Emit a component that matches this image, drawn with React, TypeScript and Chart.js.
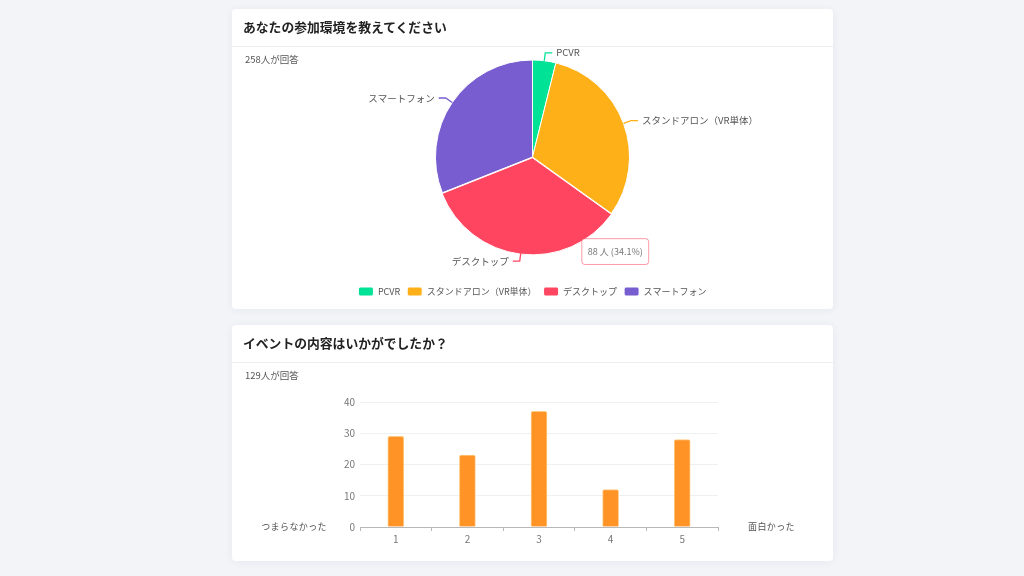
import { useEffect, useRef } from "react"
import { Chart, registerables, Tooltip, ArcElement } from "chart.js"

Chart.register(...registerables)

const FONT = "'Noto Sans CJK JP', 'Noto Sans', sans-serif"
Chart.defaults.font.family = FONT

// Q1: participation environment
const envLabels = ["PCVR", "スタンドアロン（VR単体）", "デスクトップ", "スマートフォン"]
const envCounts = [10, 80, 88, 80]
const envColors = ["#00E396", "#FEB019", "#FF4560", "#775DD0"]

// Q2: event rating
const ratingLabels = ["1", "2", "3", "4", "5"]
const ratingCounts = [29, 23, 37, 12, 28]
const ratingTicks = [0, 10, 20, 30, 40]

const total = (arr: number[]) => arr.reduce((a, b) => a + b, 0)

// tooltip sits where the "mouse" is
;(Tooltip.positioners as any).pointer = function (_els: any, pos: any) {
  return pos
}

// outside labels with leader lines
const leaderLabels = {
  id: "leaderLabels",
  afterDatasetsDraw(chart: Chart) {
    const { ctx } = chart
    const meta = chart.getDatasetMeta(0)
    ctx.save()
    ctx.font = `9.5px ${FONT}`
    ctx.textBaseline = "middle"
    meta.data.forEach((el, i) => {
      const arc = el as ArcElement
      const { x, y, startAngle, endAngle, outerRadius } = arc.getProps(
        ["x", "y", "startAngle", "endAngle", "outerRadius"],
        true
      ) as any
      const mid = (startAngle + endAngle) / 2
      const cos = Math.cos(mid)
      const sin = Math.sin(mid)
      const sx = x + cos * outerRadius
      const sy = y + sin * outerRadius
      const ex = x + cos * (outerRadius + 8)
      const ey = y + sin * (outerRadius + 8)
      const dir = cos >= 0 ? 1 : -1
      const hx = ex + dir * 7
      ctx.strokeStyle = envColors[i]
      ctx.lineWidth = 1.3
      ctx.beginPath()
      ctx.moveTo(sx, sy)
      ctx.lineTo(ex, ey)
      ctx.lineTo(hx, ey)
      ctx.stroke()
      ctx.fillStyle = "#555"
      ctx.textAlign = dir > 0 ? "left" : "right"
      ctx.fillText(envLabels[i], hx + dir * 4, ey)
    })
    ctx.restore()
  },
}

function EnvPie() {
  const ref = useRef<HTMLCanvasElement>(null)
  useEffect(() => {
    if (!ref.current) return
    const sum = total(envCounts)
    const chart = new Chart(ref.current, {
      type: "pie",
      data: {
        labels: envLabels,
        datasets: [
          {
            data: envCounts,
            backgroundColor: envColors,
            hoverBackgroundColor: envColors,
            borderColor: "#fff",
            hoverBorderColor: "#fff",
            borderWidth: 1,
            hoverOffset: 3,
            radius: 97,
          } as any,
        ],
      },
      plugins: [leaderLabels],
      options: {
        animation: false,
        responsive: false,
        events: [],
        layout: { padding: 0 },
        plugins: {
          legend: {
            position: "bottom",
            labels: {
              color: "#555",
              font: { size: 9 },
              boxWidth: 15,
              boxHeight: 9,
              padding: 7,
              useBorderRadius: true,
              borderRadius: 2,
            } as any,
          },
          tooltip: {
            enabled: true,
            position: "pointer" as any,
            xAlign: "left",
            yAlign: "top",
            caretSize: 0,
            caretPadding: 0,
            backgroundColor: "#fff",
            borderColor: "rgba(255,69,96,0.55)",
            borderWidth: 1,
            cornerRadius: 3,
            bodyColor: "#777",
            bodyFont: { size: 9 },
            padding: { x: 6, y: 7.5 },
            displayColors: false,
            callbacks: {
              title: () => "",
              label: (c) => `${c.raw} 人 (${(((c.raw as number) / sum) * 100).toFixed(1)}%)`,
            },
          },
        },
      },
    })
    // show the hovered state for デスクトップ
    const arc = chart.getDatasetMeta(0).data[2] as any
    const p = arc.getProps(["x", "y", "startAngle", "outerRadius"], true)
    const a = p.startAngle + 0.38
    const pos = { x: p.x + Math.cos(a) * p.outerRadius, y: p.y + Math.sin(a) * p.outerRadius }
    chart.setActiveElements([{ datasetIndex: 0, index: 2 }])
    chart.tooltip?.setActiveElements([{ datasetIndex: 0, index: 2 }], pos)
    chart.update()
    return () => chart.destroy()
  }, [])
  return <canvas ref={ref} width={601} height={272} style={{ position: "absolute", left: 0, top: 25 }} />
}

function RatingBar() {
  const ref = useRef<HTMLCanvasElement>(null)
  useEffect(() => {
    if (!ref.current) return
    const chart = new Chart(ref.current, {
      type: "bar",
      data: {
        labels: ratingLabels,
        datasets: [
          {
            data: ratingCounts,
            backgroundColor: "#FF9326",
            borderColor: "#FFC980",
            borderWidth: 1,
            borderSkipped: "bottom",
            borderRadius: 2,
            barThickness: 16,
          },
        ],
      },
      options: {
        animation: false,
        responsive: false,
        events: [],
        layout: { padding: { top: 12, right: 22, left: 0, bottom: 0 } },
        plugins: { legend: { display: false }, tooltip: { enabled: false } },
        scales: {
          x: {
            offset: true,
            grid: { drawOnChartArea: false, drawTicks: true, tickLength: 4, offset: true, color: "#b8b8b8" },
            border: { display: true, color: "#b8b8b8" },
            ticks: { color: "#777", font: { size: 10 }, padding: 2 },
            afterFit: (s: any) => {
              s.height = 24
            },
          },
          y: {
            min: ratingTicks[0],
            max: ratingTicks[ratingTicks.length - 1],
            afterBuildTicks: (s: any) => {
              s.ticks = ratingTicks.map((v) => ({ value: v }))
            },
            grid: { color: "#eef0f4", drawTicks: false },
            border: { display: false },
            ticks: { color: "#777", font: { size: 10 }, padding: 5 },
            afterFit: (s: any) => {
              s.width = 60
            },
          },
        },
      },
    })
    return () => chart.destroy()
  }, [])
  return <canvas ref={ref} width={440} height={161} style={{ position: "absolute", left: 68, top: 65 }} />
}

const card: React.CSSProperties = {
  position: "absolute",
  left: 232,
  width: 601,
  background: "#fff",
  borderRadius: 4,
  boxShadow: "0 1px 8px rgba(40,50,80,0.06)",
}
const header: React.CSSProperties = {
  height: 38,
  boxSizing: "border-box",
  borderBottom: "1px solid #eceef2",
  padding: "0 11px",
  fontSize: 12.8,
  fontWeight: 700,
  lineHeight: "35px",
  color: "#222",
}
const count: React.CSSProperties = {
  position: "absolute",
  left: 13,
  fontSize: 9.5,
  color: "#555",
}
const side: React.CSSProperties = {
  position: "absolute",
  fontSize: 9,
  color: "#555",
  lineHeight: "12px",
  letterSpacing: 0.4,
}

export default function App() {
  return (
    <div style={{ position: "fixed", inset: 0, background: "#f3f4f8", fontFamily: FONT }}>
      <div style={{ ...card, top: 9, height: 300 }}>
        <div style={header}>あなたの参加環境を教えてください</div>
        <div style={{ ...count, top: 43 }}>258人が回答</div>
        <EnvPie />
      </div>
      <div style={{ ...card, top: 325, height: 236 }}>
        <div style={header}>イベントの内容はいかがでしたか？</div>
        <div style={{ ...count, top: 43 }}>129人が回答</div>
        <RatingBar />
        <div style={{ ...side, right: 601 - 95, top: 196 }}>つまらなかった</div>
        <div style={{ ...side, left: 516, top: 196 }}>面白かった</div>
      </div>
    </div>
  )
}
